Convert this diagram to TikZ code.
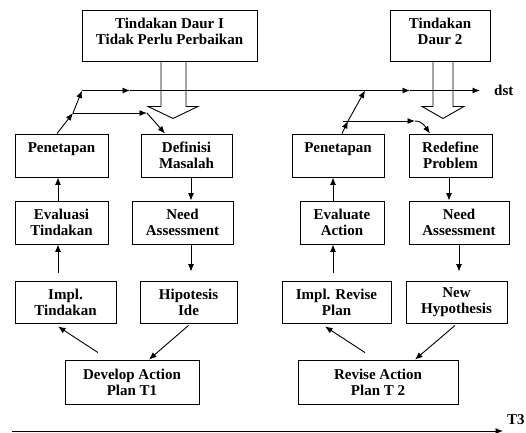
\documentclass[tikz,border=0pt]{standalone}
\usepackage{fontspec}
\setmainfont{Liberation Serif}
\usetikzlibrary{arrows.meta,calc}
\begin{document}
\begin{tikzpicture}[x=1pt,y=-1pt,
  box/.style={draw,line width=0.9pt,align=center,inner sep=0pt,
    font=\fontsize{15}{16}\selectfont\bfseries},
  arr/.style={line width=0.9pt,-{Latex[length=7.5pt,width=6pt]}},
  hollow/.style={draw,line width=0.9pt,line join=miter},
  lbl/.style={font=\fontsize{15}{16}\selectfont\bfseries,inner sep=0pt}]
\useasboundingbox (0,0) rectangle (526,432);
% top boxes
\node[box,minimum width=175pt,minimum height=51pt] (daur1) at (169.5,35.5) {Tindakan Daur I\\Tidak Perlu Perbaikan\\[-7pt]\mbox{}};
\node[box,minimum width=100pt,minimum height=51pt] (daur2) at (440,35.5) {Tindakan\\Daur 2\\[-7pt]\mbox{}};
% left column
\node[box,minimum width=93pt,minimum height=43pt] (pen1) at (61.5,155.5) {Penetapan\\\mbox{}};
\node[box,minimum width=91pt,minimum height=43pt] (def) at (186.5,155.5) {Definisi\\Masalah};
\node[box,minimum width=93pt,minimum height=43pt] (eval1) at (61.5,222.5) {Evaluasi\\Tindakan};
\node[box,minimum width=101pt,minimum height=43pt] (need1) at (182.5,222.5) {Need\\Assessment};
\node[box,minimum width=101pt,minimum height=42pt] (impl1) at (65.5,302) {Impl.\\Tindakan};
\node[box,minimum width=97pt,minimum height=42pt] (hip) at (188.5,302) {Hipotesis\\Ide};
\node[box,minimum width=134pt,minimum height=44pt] (dev) at (132,382) {Develop Action\\Plan T1};
% right column
\node[box,minimum width=92pt,minimum height=43pt] (pen2) at (338,155.5) {Penetapan\\\mbox{}};
\node[box,minimum width=83pt,minimum height=43pt] (redef) at (450.5,155.5) {Redefine\\Problem};
\node[box,minimum width=84pt,minimum height=43pt] (evala) at (342,222.5) {Evaluate\\Action};
\node[box,minimum width=100pt,minimum height=43pt] (need2) at (459,222.5) {Need\\Assessment};
\node[box,minimum width=109pt,minimum height=42pt] (implr) at (336.5,302) {Impl. Revise\\Plan};
\node[box,minimum width=101pt,minimum height=42pt] (newh) at (456.5,302) {New\\Hypothesis};
\node[box,minimum width=160pt,minimum height=44pt] (rev) at (378,382) {Revise Action\\Plan T 2};
% labels
\node[lbl,anchor=west] (dst) at (494,90.5) {dst};
\node[lbl,anchor=west] (t3) at (507,420) {T3};
% hollow arrows
\draw[hollow] ([xshift=-8.5pt]daur1.south) -- ++(0,45) -- ++(-13,0) -- ++(25,12) -- ++(25,-12) -- ++(-12,0) -- ++(0,-45);
\draw[hollow] ([xshift=-7pt]daur2.south) -- ++(0,45) -- ++(-11,0) -- ++(21,12) -- ++(21,-12) -- ++(-11,0) -- ++(0,-45);
% main timeline
\coordinate (m1) at (82,90.5);
\coordinate (a1) at (130,90.5);
\coordinate (a2) at (410,90.5);
\coordinate (m2) at (365,90.5);
\coordinate (mend) at (480,90.5);
\draw[arr] (m1) -- (a1);
\draw[arr] (a1) -- (a2);
\draw[arr] (a2) -- (mend);
% left junction
\coordinate (j1) at (73,113);
\coordinate (h1) at (147,113);
\draw[arr] ([xshift=-4.5pt]pen1.north) -- (j1);
\draw[arr] (j1) -- (m1);
\draw[arr] (j1) -- (h1);
\draw[arr] (h1) -- ([xshift=-21.5pt]def.north);
% right junction
\coordinate (j2) at (348,121);
\coordinate (j2s) at (343,121);
\coordinate (h2) at (415,121);
\draw[arr] ([xshift=4pt]pen2.north) -- (j2);
\draw[arr] (j2) -- (m2);
\draw[arr] (j2s) -- (h2);
\draw[arr] (h2) to[out=0,in=125] ([xshift=-20.5pt]redef.north);
% left verticals
\draw[arr] ([xshift=-3.5pt]eval1.north) -- ([xshift=-3.5pt]pen1.south);
\draw[arr] ([xshift=-7.5pt,yshift=8pt]impl1.north) -- ([xshift=-3.5pt]eval1.south);
\draw[arr] ([xshift=4.5pt]def.south) -- ([xshift=8.5pt]need1.north);
\draw[arr] ([xshift=8.5pt]need1.south) -- ([xshift=2.5pt,yshift=9pt]hip.north);
% right verticals
\draw[arr] ([xshift=-9pt]evala.north) -- ([xshift=-5pt]pen2.south);
\draw[arr] ([xshift=-3.5pt,yshift=8pt]implr.north) -- ([xshift=-9pt]evala.south);
\draw[arr] ([xshift=-1.5pt]redef.south) -- ([xshift=-10pt]need2.north);
\draw[arr] (need2.south) -- ([xshift=2.5pt,yshift=9pt]newh.north);
% bottom diagonals
\draw[arr] ([xshift=-34pt,yshift=7pt]dev.north) -- ([xshift=-7.5pt,yshift=-3pt]impl1.south);
\draw[arr] ([yshift=-2pt]hip.south) -- ([xshift=17pt]dev.north);
\draw[arr] ([xshift=-13pt,yshift=7pt]rev.north) -- ([xshift=-11.5pt,yshift=-3pt]implr.south);
\draw[arr] ([xshift=-1.5pt,yshift=-2pt]newh.south) -- ([xshift=37pt]rev.north);
% time axis
\coordinate (t0) at (12,431);
\coordinate (t1) at (503,431);
\draw[arr] (t0) -- (t1);
\end{tikzpicture}
\end{document}
